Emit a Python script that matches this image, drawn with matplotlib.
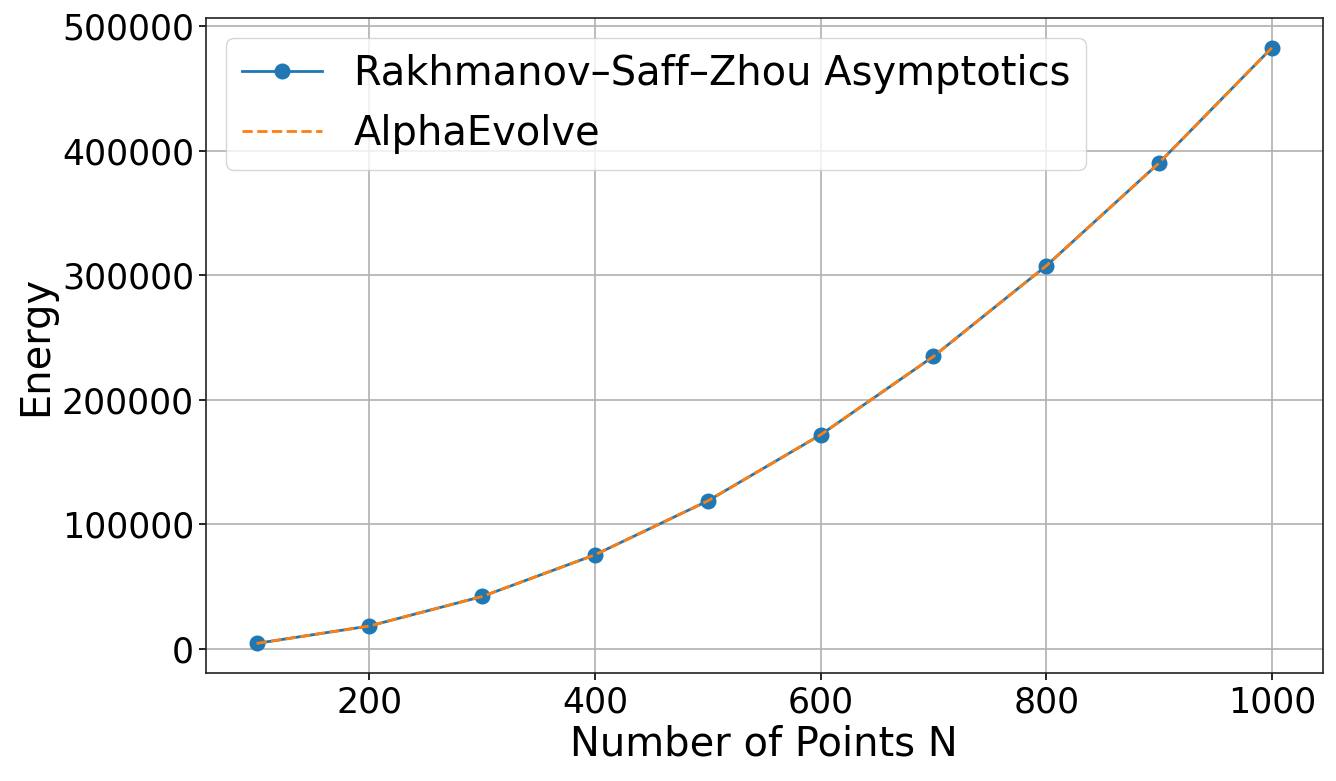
import matplotlib.pyplot as plt

# Energy values
n_points = [100, 200, 300, 400, 500, 600, 700, 800, 900, 1000]
rsz_energy = [4448, 18438, 42130, 75582, 118825, 171883, 234771, 307503, 390088, 482535]
alpha_energy = [4448, 18438, 42130, 75582, 118825, 171883, 234771, 307503, 390088, 482535]

fig, ax = plt.subplots(figsize=(13.36, 7.81), dpi=100)
fig.subplots_adjust(left=0.154, right=0.99, top=0.977, bottom=0.138)

ax.plot(n_points, rsz_energy, marker='o', markersize=10.5, linewidth=2,
        label='Rakhmanov\u2013Saff\u2013Zhou Asymptotics')
ax.plot(n_points, alpha_energy, linestyle='--', linewidth=2, label='AlphaEvolve')

ax.set_xlabel('Number of Points N', fontsize=28.8)
ax.set_ylabel('Energy', fontsize=28.8)
ax.tick_params(labelsize=25, length=5, width=1.2)
ax.set_yticks([0, 100000, 200000, 300000, 400000, 500000])
ax.grid(True, color='#b0b0b0', linewidth=1.2)
ax.legend(fontsize=28.8, loc='upper left')
for s in ax.spines.values():
    s.set_color('#222222')
    s.set_linewidth(1.2)

fig.savefig('out.png')
